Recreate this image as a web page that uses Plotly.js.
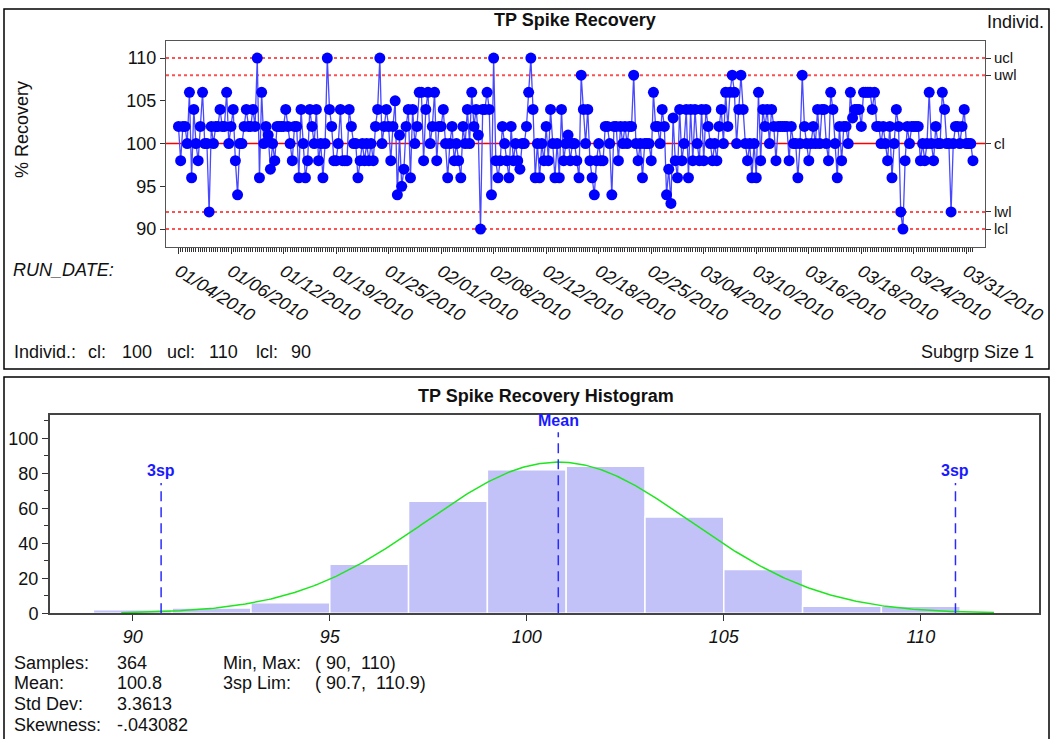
<!DOCTYPE html>
<html>
<head>
<meta charset="utf-8">
<script src="https://cdn.plot.ly/plotly-3.0.1.min.js"></script>
<style>
  html, body { margin: 0; padding: 0; background: #ffffff; }
  #chart { width: 1052px; height: 739px; }
</style>
</head>
<body>
<div id="chart"></div>
<script>
// ---------- DATA ----------
const recoveryValues = [
  102, 98, 102, 102, 100, 106, 96, 104, 100, 98,
  102, 106, 100, 100, 92, 102, 100, 102, 102, 104,
  102, 102, 106, 100, 102, 104, 98, 94, 100, 100,
  102, 104, 102, 102, 104, 102, 110, 96, 106, 100,
  102, 101, 97, 100, 98, 102, 102, 102, 102, 104,
  102, 100, 98, 102, 102, 96, 104, 100,
  96, 98, 104, 102, 100, 104, 98, 100, 96, 100,
  110, 104, 102, 98, 98, 100, 104, 98, 98, 98,
  104, 102, 100, 100, 96, 98, 100, 98, 100, 98,
  100, 98, 102, 104, 110, 100, 102, 104, 102, 98,
  102, 105, 94, 101, 95, 97, 102, 104, 96, 104,
  100, 102, 106, 106, 98, 104, 106, 100, 102,
  106, 98, 102, 102, 104, 100, 96, 100, 102, 98,
  100, 98, 96, 102, 100, 104, 100, 106, 102, 104,
  101, 90, 104, 104, 106, 104, 94, 110, 98, 96,
  98, 102, 100, 98, 96, 102, 98, 100, 98, 97,
  100, 100, 102, 106, 110, 104, 96, 100, 96, 100,
  98, 102, 98, 104, 100, 96, 100, 96, 104, 98,
  100, 101, 98, 100, 100,
  98, 96, 108, 104, 100, 104, 98, 96, 94, 98,
  100, 98, 98, 102, 102, 100, 94, 102, 102, 98,
  102, 100, 102, 100, 102, 102, 108, 100, 98, 100,
  96, 100, 100, 100, 98, 106, 102, 102, 100, 104,
  102, 94, 97, 93, 103, 98, 96, 104, 98, 100,
  104, 96, 104, 98, 104, 100, 98, 104, 98, 104,
  102,
  100, 98, 100, 98, 102, 104, 100, 106, 102, 106,
  108, 106, 100, 104, 108, 104, 100, 98, 100, 96,
  100, 96, 106, 98, 104, 102, 104, 100, 104, 102,
  98, 102, 102, 102, 102, 102, 98, 102, 100, 100,
  96, 100, 108, 102, 100, 98, 100, 102, 100, 104,
  100, 104, 104, 100, 98, 106, 104, 100, 96, 102,
  98, 102,
  102, 100, 106, 103, 104, 104, 104, 102, 106, 106,
  106, 106, 104, 106, 102, 102, 100, 102, 100, 98,
  102, 96, 100, 104, 102, 92, 90, 98, 102, 100,
  102, 102, 102, 102, 98, 100, 98, 100, 106, 100,
  98, 102, 100, 100, 106, 104, 100, 100, 92, 100,
  102, 102, 100, 102, 104, 100, 100, 100, 98
];
const dateLabels = ['01/04/2010','01/06/2010','01/12/2010','01/19/2010','01/25/2010','02/01/2010',
  '02/08/2010','02/12/2010','02/18/2010','02/25/2010','03/04/2010','03/10/2010','03/16/2010',
  '03/18/2010','03/24/2010','03/31/2010'];
const samplesPerLabel = 24;
const yTickValues = [90, 95, 100, 105, 110];
const limitNames = ['ucl', 'uwl', 'cl', 'lwl', 'lcl'];
const limitValues = [110, 108, 100, 92, 90];

const binCenters = [90, 92, 94, 96, 98, 100, 102, 104, 106, 108, 110];
const binCounts  = [2, 3, 6, 28, 64, 82, 84, 55, 25, 4, 4];
const binWidth = 2;
const histXTicks = [90, 95, 100, 105, 110];
const statMean = 100.8;
const statSd = 3.3613;
const statN = 364;
const lim3spLow = 90.72;
const lim3spHigh = 110.88;

const statLabelsA = ['Samples:', 'Mean:', 'Std Dev:', 'Skewness:'];
const statValuesA = ['364', '100.8', '3.3613', '-.043082'];
const statLabelsB = ['Min, Max:', '3sp Lim:'];
const statValuesB = ['( 90,  110)', '( 90.7,  110.9)'];
const footerParts = ['Individ.:', 'cl:', '100', 'ucl:', '110', 'lcl:', '90'];

// ---------- HELPERS ----------
const W = 1052, H = 739;
const px = x => x / W;
const py = y => 1 - y / H;
const FONT = 'Liberation Sans, Arial, Helvetica, sans-serif';
const TXT = '#111111';

const idx = recoveryValues.map((_, i) => i);
const tickIdx = dateLabels.map((_, k) => k * samplesPerLabel);

// fitted normal curve (from the stated mean / std dev)
const curveX = [], curveY = [];
for (let x = statMean - 3.3 * statSd; x <= statMean + 3.3 * statSd + 1e-9; x += 0.05) {
  curveX.push(x);
  curveY.push(statN * binWidth / (statSd * Math.sqrt(2 * Math.PI)) *
              Math.exp(-0.5 * Math.pow((x - statMean) / statSd, 2)));
}

// ---------- TRACES ----------
const traces = [
  { type: 'scatter', x: limitValues.map(() => idx[0]), y: limitValues, xaxis: 'x', yaxis: 'y2',
    mode: 'none', hoverinfo: 'skip', showlegend: false },
  { type: 'scatter', x: idx, y: recoveryValues, xaxis: 'x', yaxis: 'y',
    mode: 'lines+markers', line: { color: '#4848ff', width: 1.3 },
    marker: { color: '#0000ff', size: 11 }, hoverinfo: 'skip', showlegend: false, cliponaxis: false },
  { type: 'bar', x: binCenters, y: binCounts, width: binWidth, xaxis: 'x2', yaxis: 'y3',
    marker: { color: '#c2c2f8', line: { color: '#ffffff', width: 1.5 } },
    hoverinfo: 'skip', showlegend: false },
  { type: 'scatter', x: curveX, y: curveY, xaxis: 'x2', yaxis: 'y3', mode: 'lines',
    line: { color: '#1ee61e', width: 1.5 }, hoverinfo: 'skip', showlegend: false }
];

// ---------- SHAPES ----------
const limitStyles = {
  ucl: { color: '#ff1a1a', width: 1.5, dash: '3px,3px' },
  uwl: { color: '#ff5050', width: 2, dash: '3px,3px' },
  cl:  { color: '#ff0000', width: 1.5, dash: 'solid' },
  lwl: { color: '#ff5050', width: 2, dash: '3px,3px' },
  lcl: { color: '#ff1a1a', width: 1.5, dash: '3px,3px' }
};
const shapes = [
  { type: 'rect', xref: 'paper', yref: 'paper', x0: px(4), x1: px(1049), y0: py(369), y1: py(9),
    line: { color: '#000000', width: 1.5 } },
  { type: 'rect', xref: 'paper', yref: 'paper', x0: px(4), x1: px(1049), y0: py(745), y1: py(377),
    line: { color: '#000000', width: 1.5 } }
];
limitNames.forEach((n, k) => {
  shapes.push({ type: 'line', layer: 'below', xref: 'x domain', x0: 0, x1: 1, yref: 'y',
    y0: limitValues[k], y1: limitValues[k], line: limitStyles[n] });
});
const vLine = (x, top) => ({ type: 'line', xref: 'x2', yref: 'y3', x0: x, x1: x, y0: 0, y1: top,
  line: { color: '#2a2aff', width: 1.5, dash: '10px,6px' } });
shapes.push(vLine(lim3spLow, 74.5), vLine(statMean, 103.5), vLine(lim3spHigh, 74.5));

// ---------- ANNOTATIONS ----------
const ann = (text, x, y, opts = {}) => Object.assign({
  text, x, y, xref: 'paper', yref: 'paper', showarrow: false,
  xanchor: 'left', yanchor: 'middle', font: { family: FONT, size: 18, color: TXT }
}, opts);

const annotations = [
  ann('<b>TP Spike Recovery</b>', px(575), py(20), { xanchor: 'center' }),
  ann('Individ.', px(1046), py(22), { xanchor: 'right' }),
  ann('% Recovery', px(22), py(130), { xanchor: 'center', textangle: -90 }),
  ann('RUN_DATE:', px(11), py(270), { font: { family: FONT, size: 18, color: TXT, style: 'italic' } }),
  ann('Subgrp Size 1', px(1036), py(352), { xanchor: 'right' }),
  ann('<b>TP Spike Recovery Histogram</b>', px(546), py(396), { xanchor: 'center' }),
  ann('<b>Mean</b>', statMean, py(420), { xref: 'x2', xanchor: 'center',
    font: { family: FONT, size: 16, color: '#1a1aff' } }),
  ann('<b>3sp</b>', lim3spLow, py(470), { xref: 'x2', xanchor: 'center',
    font: { family: FONT, size: 16, color: '#1a1aff' } }),
  ann('<b>3sp</b>', lim3spHigh, py(470), { xref: 'x2', xanchor: 'center',
    font: { family: FONT, size: 16, color: '#1a1aff' } })
];
const footerX = [12, 86, 120, 165, 207, 254, 289];
footerParts.forEach((t, k) => annotations.push(ann(t, px(footerX[k]), py(352))));
const statRowsY = [663, 683, 704, 725];
statLabelsA.forEach((t, k) => {
  annotations.push(ann(t, px(12), py(statRowsY[k])));
  annotations.push(ann(statValuesA[k], px(115), py(statRowsY[k])));
});
statLabelsB.forEach((t, k) => {
  annotations.push(ann(t, px(221), py(statRowsY[k])));
  annotations.push(ann(statValuesB[k].replace(/ /g, '\u00a0'), px(313), py(statRowsY[k])));
});

// ---------- LAYOUT ----------
const tickFont = { family: FONT, size: 18, color: TXT };
const layout = {
  width: W, height: H,
  margin: { l: 0, r: 0, t: 0, b: 0, pad: 0 },
  paper_bgcolor: '#ffffff', plot_bgcolor: '#ffffff',
  showlegend: false, hovermode: false,
  font: { family: FONT, color: TXT },
  xaxis: {
    domain: [px(166), px(985)], anchor: 'y', range: [-5.7, 368.5],
    showline: true, mirror: true, linecolor: '#555555', linewidth: 1,
    showgrid: false, zeroline: false,
    tickmode: 'array', tickvals: tickIdx, ticktext: dateLabels, tickangle: 32,
    ticks: 'outside', ticklen: 6, tickcolor: '#333333', tickwidth: 1,
    tickfont: { family: FONT, size: 18, color: TXT, style: 'italic' },
    minor: { tickmode: 'array', tickvals: idx, ticks: 'outside', ticklen: 4,
             tickcolor: '#333333', tickwidth: 1, showgrid: false }
  },
  yaxis: {
    domain: [py(247), py(41)], anchor: 'x', range: [87.9, 112.0],
    showline: true, mirror: true, linecolor: '#555555', linewidth: 1,
    showgrid: false, zeroline: false,
    tickmode: 'array', tickvals: yTickValues,
    ticks: 'outside', ticklen: 5, tickcolor: '#333333', tickfont: tickFont
  },
  yaxis2: {
    overlaying: 'y', side: 'right', anchor: 'x', range: [87.9, 112.0],
    showline: false, showgrid: false, zeroline: false,
    tickmode: 'array', tickvals: limitValues, ticktext: limitNames,
    ticks: 'outside', ticklen: 5, tickcolor: '#333333',
    tickfont: { family: FONT, size: 15, color: TXT }
  },
  xaxis2: {
    domain: [px(50), px(1039)], anchor: 'y3', range: [87.9, 113.0],
    showline: true, mirror: true, linecolor: '#444444', linewidth: 2,
    showgrid: false, zeroline: false,
    tickmode: 'array', tickvals: histXTicks,
    ticks: 'outside', ticklen: 6, tickcolor: '#333333',
    tickfont: { family: FONT, size: 18, color: TXT, style: 'italic' }
  },
  yaxis3: {
    domain: [py(613.3), py(415)], anchor: 'x2', range: [0, 113.3],
    showline: true, mirror: true, linecolor: '#444444', linewidth: 2,
    showgrid: false, zeroline: false,
    tick0: 0, dtick: 20, ticks: 'outside', ticklen: 6, tickcolor: '#333333', tickfont: tickFont,
    minor: { dtick: 10, ticks: 'outside', ticklen: 4, tickcolor: '#333333', showgrid: false }
  },
  shapes, annotations
};

Plotly.newPlot('chart', traces, layout, { staticPlot: true, displayModeBar: false });
</script>
</body>
</html>
